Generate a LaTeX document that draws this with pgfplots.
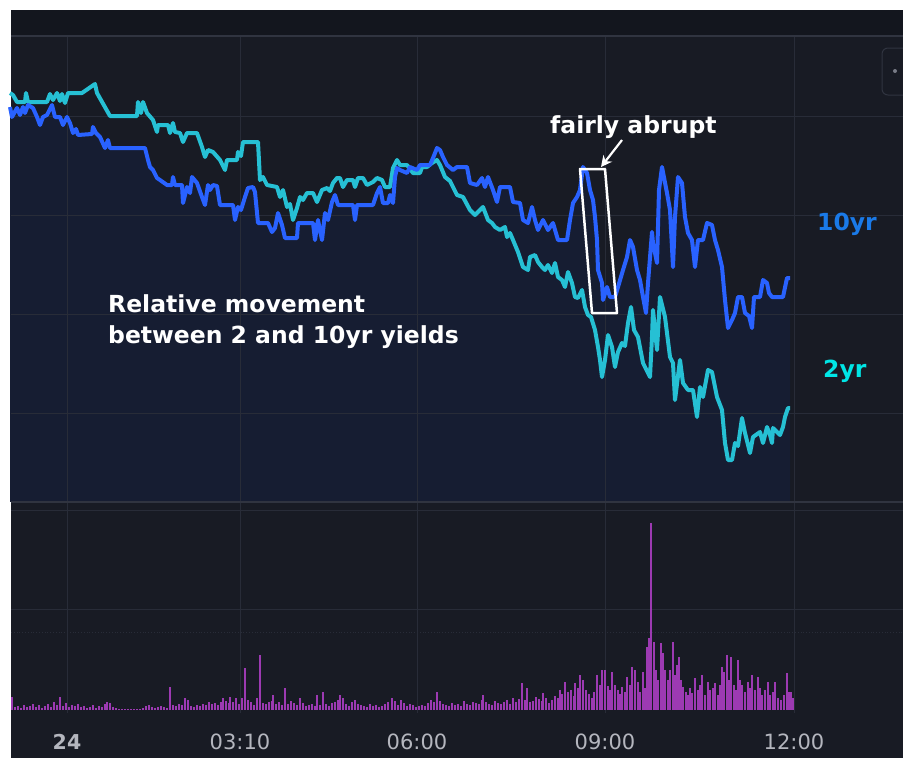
\documentclass[border=0pt]{standalone}
\usepackage{fontspec}
\setmainfont{DejaVu Sans}
\usepackage{pgfplots}
\pgfplotsset{compat=1.18}
\usepackage{pgfplotstable}
\usetikzlibrary{arrows.meta}
\definecolor{bgmain}{RGB}{24,27,36}
\definecolor{bgtop}{RGB}{19,22,30}
\definecolor{areac}{RGB}{22,29,50}
\definecolor{gridc}{RGB}{40,44,56}
\definecolor{borderc}{RGB}{48,52,64}
\definecolor{tenc}{RGB}{41,98,255}
\definecolor{twoc}{RGB}{38,192,212}
\definecolor{tenlab}{RGB}{26,122,232}
\definecolor{twolab}{RGB}{0,230,230}
\definecolor{volc}{RGB}{156,58,178}
\definecolor{tickc}{RGB}{180,182,190}
\definecolor{dotc}{RGB}{120,123,134}

\pgfplotsset{pix/.style={width=903pt, height=758pt, scale only axis,
  xmin=0, xmax=903, ymin=0, ymax=758, y dir=reverse,
  axis lines=none, xtick=\empty, ytick=\empty, clip=true,
  at={(0,0)}, anchor=south west}}

\pgfplotstableread{
x y
10 107
12 117
17 108
20 115
23 107
25 113
28 105
33 108
37 117
40 125
43 117
47 115
52 105
55 117
60 117
63 125
67 117
70 123
73 133
76 129
78 135
92 134
93 127
96 133
100 137
105 148
108 140
110 148
145 148
148 160
150 167
153 170
157 178
160 180
167 185
172 185
173 177
175 185
182 185
183 203
187 187
190 193
192 177
197 183
202 197
205 205
208 185
210 190
213 185
217 186
220 205
233 205
235 220
238 207
241 210
245 197
248 188
253 187
255 192
258 223
268 223
272 232
275 228
278 213
282 225
285 238
297 238
298 223
313 223
315 240
318 220
322 240
325 213
328 220
332 202
335 195
338 205
353 205
355 220
357 205
373 205
377 193
380 187
383 203
388 203
390 195
393 203
395 177
397 168
400 170
407 173
410 167
417 170
420 165
430 165
433 158
437 148
440 150
443 157
447 165
453 170
457 167
467 167
470 183
477 185
482 178
485 187
488 177
493 190
497 202
500 187
510 187
513 202
520 203
523 220
528 223
532 207
535 220
538 230
543 220
548 230
553 223
558 240
567 240
570 220
573 203
577 197
580 190
583 167
587 173
590 190
593 200
595 217
597 240
598 270
602 283
603 300
607 287
610 297
615 297
618 287
623 270
627 257
630 240
633 247
637 270
640 280
643 297
646 313
648 283
652 232
653 243
657 263
659 190
662 167
667 193
670 210
673 267
675 217
678 177
682 183
685 217
688 233
692 240
695 267
698 240
703 240
707 223
712 225
715 240
718 250
722 267
725 300
728 328
732 320
735 313
738 297
742 297
745 313
749 316
752 328
754 297
760 297
763 280
767 283
769 293
772 297
783 297
787 278
790 278
}\tenyr

\pgfplotstableread{
x y
10 93
13 95
17 102
25 102
26 93
28 102
47 102
50 94
53 100
57 93
60 101
62 94
65 103
68 93
82 93
95 84
97 93
110 116
137 116
138 102
141 113
143 102
147 113
153 120
157 132
158 125
168 125
170 133
173 123
175 132
180 133
183 142
187 133
197 133
202 147
205 157
208 150
213 152
220 160
225 170
227 160
237 160
238 152
241 156
243 142
258 142
260 180
263 177
267 185
277 187
280 197
283 190
287 207
290 204
293 220
297 208
300 197
303 200
307 193
313 193
317 202
322 190
327 188
330 191
333 183
337 178
340 178
343 187
347 180
353 180
355 187
358 178
363 178
367 185
373 182
377 178
382 180
385 187
390 187
393 168
397 160
400 165
407 165
413 173
420 173
422 167
427 167
432 163
437 160
440 165
445 177
450 181
457 195
463 197
470 210
475 215
480 210
483 207
488 220
492 223
495 227
500 230
505 227
507 237
510 233
513 240
518 252
523 267
528 270
530 257
535 255
538 262
542 267
545 270
548 265
552 273
555 263
558 277
562 280
565 287
568 272
572 283
575 297
578 298
582 290
585 307
588 315
591 317
595 330
598 347
600 360
602 377
605 360
608 335
612 347
615 367
618 352
622 343
625 346
628 323
631 307
634 330
638 337
643 363
650 377
652 337
653 310
657 350
660 297
665 317
670 357
673 363
675 400
680 360
683 383
688 390
693 390
697 417
700 387
703 397
708 370
712 372
717 397
722 410
725 443
728 460
732 460
735 443
738 446
742 418
745 433
750 453
753 437
760 432
763 443
767 427
770 435
772 443
773 428
780 435
783 427
785 417
788 408
790 408
}\twoyr

\pgfplotstableread{
x h
12 13
15 3
18 4
21 2
24 5
27 3
30 4
33 6
36 3
39 5
42 2
45 4
48 6
51 3
54 8
57 5
60 13
63 4
66 7
69 3
72 5
75 4
78 6
81 3
84 4
87 2
90 3
93 5
96 2
99 4
102 3
105 6
107 8
110 7
113 3
116 2
119 1
122 1
125 1
128 1
131 1
134 1
137 1
140 1
143 2
146 4
149 5
152 3
155 2
158 3
161 4
164 3
167 2
170 23
173 5
176 4
179 6
182 5
185 12
188 10
191 4
194 3
197 5
200 4
203 6
206 5
209 8
212 6
215 7
218 5
221 8
223 12
226 9
229 7
230 13
233 8
236 12
239 6
242 12
245 42
248 10
251 8
254 5
257 12
260 55
263 7
266 6
269 8
272 9
273 15
276 6
279 8
282 5
285 22
288 6
291 9
294 7
297 5
300 12
303 7
306 4
309 5
312 6
315 4
317 15
320 5
323 18
326 6
329 4
332 7
335 8
338 10
340 15
343 12
346 6
349 4
352 8
355 10
358 6
361 5
364 4
367 3
370 6
373 4
376 5
379 3
382 4
385 6
388 8
392 12
395 9
398 5
401 10
404 7
407 4
410 6
413 5
416 3
419 4
422 5
425 4
428 7
431 10
434 8
437 18
440 9
443 6
446 5
449 4
452 7
455 5
458 6
461 4
464 9
467 6
470 5
473 8
476 7
479 6
482 10
483 15
486 8
489 6
492 5
495 9
498 7
501 6
504 8
507 10
510 6
513 12
516 8
519 11
522 27
525 10
527 22
530 8
533 9
536 13
539 11
542 9
543 17
546 12
549 7
552 10
555 14
558 12
560 20
562 16
565 28
568 18
571 20
574 14
575 27
578 22
580 35
583 30
586 20
589 16
592 12
594 18
597 35
600 25
602 40
605 40
608 24
610 20
612 38
615 25
618 20
620 16
622 23
625 18
627 33
630 25
632 43
635 40
638 28
640 18
643 38
645 22
647 63
649 72
651 187
654 68
656 40
658 30
661 67
663 57
665 40
668 30
670 40
673 68
675 35
677 45
679 53
681 30
683 23
686 18
688 15
690 22
692 17
695 32
698 20
700 25
702 35
705 15
708 28
710 20
713 22
715 27
718 15
720 25
722 43
724 38
727 55
729 30
731 53
734 25
736 20
738 50
740 30
742 25
745 18
748 28
750 22
752 35
755 20
758 33
760 22
762 15
765 20
768 28
770 15
773 18
775 28
778 12
781 10
784 15
787 37
789 18
791 18
793 12
}\vol

\begin{document}
\begin{tikzpicture}
% background layer
\begin{axis}[pix]
\fill[white] (axis cs:0,0) rectangle (axis cs:903,758);
\fill[bgmain] (axis cs:11,10) rectangle (axis cs:903,758);
\fill[bgtop] (axis cs:11,10) rectangle (axis cs:903,36);
\end{axis}
% price-pane area under the 10yr line (base of pane = pixel row 502)
\begin{axis}[at={(0,256pt)}, anchor=south west,
  width=903pt, height=502pt, scale only axis,
  xmin=0, xmax=903, ymin=0, ymax=502,
  axis lines=none, xtick=\empty, ytick=\empty]
\addplot[fill=areac, draw=none, mark=none] table[x=x, y expr=502-\thisrow{y}] {\tenyr} \closedcycle;
\end{axis}
% overlay
\begin{axis}[pix]
\draw[gridc, line width=1pt] (axis cs:11,116) -- (axis cs:903,116);
\draw[gridc, line width=1pt] (axis cs:11,215) -- (axis cs:903,215);
\draw[gridc, line width=1pt] (axis cs:11,314) -- (axis cs:903,314);
\draw[gridc, line width=1pt] (axis cs:11,413) -- (axis cs:903,413);
\draw[gridc, line width=1pt] (axis cs:11,609) -- (axis cs:903,609);
\draw[gridc, line width=0.8pt, dotted] (axis cs:11,632) -- (axis cs:903,632);
\draw[gridc, line width=1pt] (axis cs:67,36) -- (axis cs:67,713);
\draw[gridc, line width=1pt] (axis cs:240,36) -- (axis cs:240,713);
\draw[gridc, line width=1pt] (axis cs:417,36) -- (axis cs:417,713);
\draw[gridc, line width=1pt] (axis cs:605,36) -- (axis cs:605,713);
\draw[gridc, line width=1pt] (axis cs:794,36) -- (axis cs:794,713);
\draw[borderc, line width=1.5pt] (axis cs:11,36) -- (axis cs:903,36);
\draw[borderc, line width=1.5pt] (axis cs:11,502) -- (axis cs:903,502);
\draw[gridc, line width=1pt] (axis cs:11,510) -- (axis cs:903,510);
% top-right widget
\draw[borderc, line width=1pt, rounded corners=6pt] (axis cs:903,48) -- (axis cs:882,48) -- (axis cs:882,95) -- (axis cs:903,95);
\fill[dotc] (axis cs:895,71) circle[radius=2pt];
% series
\addplot[twoc, line width=4pt, line join=round, mark=none] table[x=x,y=y] {\twoyr};
\addplot[tenc, line width=4pt, line join=round, mark=none] table[x=x,y=y] {\tenyr};
% annotations
\draw[white, line width=2.5pt, line join=round] (axis cs:580,169) -- (axis cs:605,169) -- (axis cs:617,313) -- (axis cs:592,313) -- cycle;
\draw[white, line width=2.2pt, -{Stealth[length=11pt,width=11pt]}] (axis cs:622,140) -- (axis cs:601,167);
\node[anchor=base west, inner sep=0pt, white, font=\fontsize{23.5}{28}\selectfont\bfseries] at (axis cs:550,133) {fairly abrupt};
\node[anchor=base west, inner sep=0pt, white, font=\fontsize{23.5}{28}\selectfont\bfseries] at (axis cs:108,312) {Relative movement};
\node[anchor=base west, inner sep=0pt, white, font=\fontsize{23.5}{28}\selectfont\bfseries] at (axis cs:108,343) {between 2 and 10yr yields};
\node[anchor=base west, inner sep=0pt, tenlab, font=\fontsize{23.5}{28}\selectfont\bfseries] at (axis cs:817,230) {10yr};
\node[anchor=base west, inner sep=0pt, twolab, font=\fontsize{23.5}{28}\selectfont\bfseries] at (axis cs:823,377) {2yr};
% time labels
\node[anchor=base, inner sep=0pt, tickc, font=\fontsize{20.5}{24}\selectfont\bfseries] at (axis cs:67,749) {24};
\node[anchor=base, inner sep=0pt, tickc, font=\fontsize{21}{24}\selectfont] at (axis cs:240,749) {03:10};
\node[anchor=base, inner sep=0pt, tickc, font=\fontsize{21}{24}\selectfont] at (axis cs:417,749) {06:00};
\node[anchor=base, inner sep=0pt, tickc, font=\fontsize{21}{24}\selectfont] at (axis cs:605,749) {09:00};
\node[anchor=base, inner sep=0pt, tickc, font=\fontsize{21}{24}\selectfont] at (axis cs:794,749) {12:00};
\end{axis}
% volume pane
\begin{axis}[at={(0,48pt)}, anchor=south west,
  width=903pt, height=200pt, scale only axis,
  xmin=0, xmax=903, ymin=0, ymax=200,
  axis lines=none, xtick=\empty, ytick=\empty]
\addplot[ycomb, draw=volc, line width=1.3pt, mark=none] table[x=x,y=h] {\vol};
\end{axis}
\end{tikzpicture}
\end{document}
